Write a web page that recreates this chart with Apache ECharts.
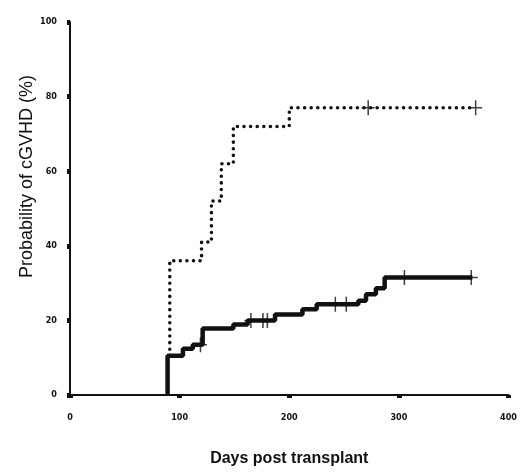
<html lang="en">
<head>
<meta charset="UTF-8">
<title>cGVHD</title>
<style>
    html, body { margin: 0; width: 100%; height: 100%; background: #ffffff; overflow: hidden; }
    #container { width: 520px; height: 473px; }
</style>
</head>
<body>
<div id="container"></div>
<script src="https://cdn.jsdelivr.net/npm/echarts@6/dist/echarts.min.js"></script>
<script>
    // step curves: [day, probability after the event]
    var dottedDays = [91, 91, 120, 129, 138, 149, 200, 370];
    var dottedProb = [10.5, 36, 41, 52, 62, 72, 77, 77];
    var solidDays = [89, 89, 103, 112, 121, 149, 162, 187, 212, 225, 263, 270, 279, 287, 367];
    var solidProb = [0, 10.5, 12.4, 13.5, 17.8, 18.9, 20, 21.6, 23, 24.3, 25.3, 27, 28.6, 31.5, 31.5];
    // censored observations (+)
    var dottedCensDays = [272, 370];
    var dottedCensProb = [77, 77];
    var solidCensDays = [119, 165, 176, 180, 242, 252, 305, 366];
    var solidCensProb = [13.5, 20, 20, 20, 24.3, 24.3, 31.5, 31.5];
    var xTicks = [0, 100, 200, 300, 400];
    var yTicks = [0, 20, 40, 60, 80, 100];

    function pairs(xs, ys) {
        var out = [];
        for (var i = 0; i < xs.length; i++) out.push([xs[i], ys[i]]);
        return out;
    }

    var plus = 'path://M-0.7,-7H0.7V-0.7H6V0.7H0.7V7H-0.7V0.7H-6V-0.7H-0.7Z';
    var tickFont = {
        color: '#111', fontFamily: "'DejaVu Sans Condensed', 'Liberation Sans'", fontWeight: 'bold', fontSize: 9
    };

    var chart = echarts.init(document.getElementById('container'));
    chart.setOption({
        backgroundColor: '#ffffff',
        animation: false,
        grid: { left: 70, right: 5, top: 22, bottom: 78 },
        xAxis: {
            type: 'value', min: 0, max: 400, interval: 100,
            name: 'Days post transplant', nameLocation: 'middle', nameGap: 56, nameMoveOverlap: false,
            nameTextStyle: { color: '#111', fontFamily: 'Liberation Sans', fontWeight: 'bold', fontSize: 16 },
            axisLine: { lineStyle: { color: '#111', width: 2 } },
            axisTick: { show: true, length: 3, lineStyle: { color: '#111', width: 5 } },
            axisLabel: Object.assign({ margin: 18, formatter: function (v) { return xTicks.indexOf(v) >= 0 ? v : ''; } }, tickFont),
            splitLine: { show: false }
        },
        yAxis: {
            type: 'value', min: 0, max: 100, interval: 20,
            name: 'Probability of cGVHD (%)', nameLocation: 'middle', nameGap: 34, nameMoveOverlap: false,
            nameTextStyle: { color: '#111', fontFamily: 'Liberation Sans', fontSize: 18, padding: [0, 0, 0, 64] },
            axisLine: { show: true, lineStyle: { color: '#111', width: 2 } },
            axisTick: { show: true, length: 3, lineStyle: { color: '#111', width: 5 } },
            axisLabel: Object.assign({ margin: 13, formatter: function (v) { return yTicks.indexOf(v) >= 0 ? v : ''; } }, tickFont),
            splitLine: { show: false }
        },
        series: [
            {
                type: 'line', step: 'end', showSymbol: false,
                data: pairs(dottedDays, dottedProb),
                lineStyle: { color: '#111', width: 3.5, type: [0.1, 6.5], cap: 'round' }
            },
            {
                type: 'line', step: 'end', showSymbol: false,
                data: pairs(solidDays, solidProb),
                lineStyle: { color: '#111', width: 4.5 }
            },
            {
                type: 'scatter', symbol: plus, symbolSize: [13, 15],
                itemStyle: { color: '#111' },
                data: pairs(dottedCensDays, dottedCensProb).concat(pairs(solidCensDays, solidCensProb))
            }
        ]
    });
</script>
</body>
</html>
